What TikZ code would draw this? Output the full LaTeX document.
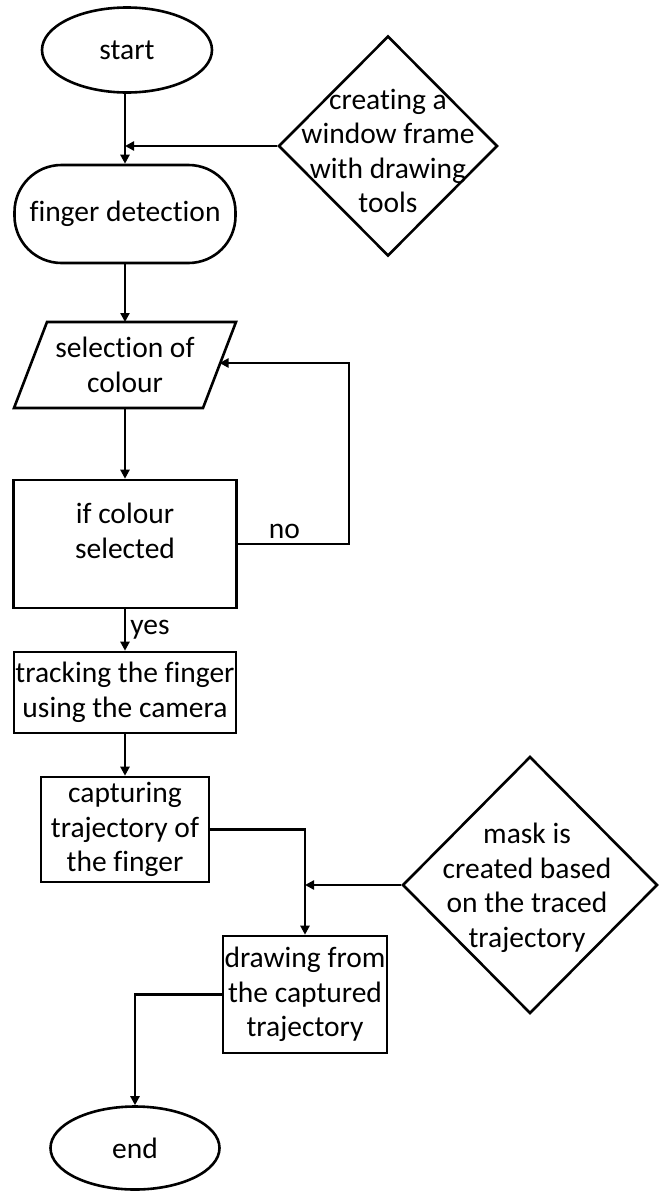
\documentclass[tikz,border=0pt]{standalone}
\usepackage{fontspec}
\setmainfont[Ligatures={NoCommon}]{Carlito}
\usetikzlibrary{arrows.meta,shapes.geometric,calc}
\begin{document}
\begin{tikzpicture}[x=1pt,y=-1pt,
  line width=2.6pt,
  every node/.style={font=\fontsize{29.5}{34.5}\selectfont, align=center, inner sep=0pt},
  arr/.style={-{Triangle[length=9pt,width=9pt]}},
  box/.style={draw, rectangle},
  term/.style={draw, ellipse},
  deci/.style={draw, diamond}
]
\useasboundingbox (0,0) rectangle (661,1191);

% nodes
\node[term, minimum width=170pt, minimum height=85pt] (start) at (127,50) {start};
\node[box, rounded corners=47pt, minimum width=221pt, minimum height=98pt] (fd) at (125,214) {finger detection};
\node[deci, minimum width=219pt, minimum height=220pt] (d1) at (388,146) {};
\node (d1t) at (388,151) {creating a\\window frame\\with drawing\\tools};

\node[minimum width=222pt, minimum height=86pt, outer sep=0pt] (sel) at (125,365) {selection of\\colour};
\draw ($(sel.north west)+(33,0)$) -- (sel.north east) -- ($(sel.south east)+(-33,0)$) -- (sel.south west) -- cycle;
\coordinate (selr) at ($(sel.east)+(-16.5,-2)$);

\node[box, minimum width=223pt, minimum height=128pt] (ifb) at (125,544) {};
\node (ifbt) at (125,531) {if colour\\selected};

\node[box, minimum width=222pt, minimum height=81pt] (trk) at (125,692.5) {tracking the finger\\using the camera};
\node[box, minimum width=168pt, minimum height=105pt] (cap) at (125,829.5) {capturing\\trajectory of\\the finger};

\node[deci, minimum width=255pt, minimum height=257pt] (d2) at (530,885) {};
\node (d2t) at (527,888) {mask is\\created based\\on the traced\\trajectory};

\node[box, minimum width=164pt, minimum height=117pt] (drw) at (305,994.5) {drawing from\\the captured\\trajectory};
\node[term, minimum width=169pt, minimum height=83pt] (end) at (135,1148) {end};

% connectors
\draw[arr] (start.south -| fd.north) -- (fd.north);
\draw[arr] (d1.west) -- (d1.west -| fd.north);
\draw[arr] (fd) -- (sel);
\draw[arr] (sel) -- (ifb);
\draw[arr] (ifb.east) -- node[pos=0.42, above=4pt] (nolab) {no} ++(111,0) coordinate (nocorner) |- (selr);
\draw[arr] (ifb) -- node[right=4pt] (yeslab) {yes} (trk);
\draw[arr] (trk) -- (cap);
\draw[arr] (cap.east) -| (drw.north);
\draw[arr] (d2.west) -- (d2.west -| drw.north);
\draw[arr] (drw.west) -| (end.north);
\end{tikzpicture}
\end{document}
